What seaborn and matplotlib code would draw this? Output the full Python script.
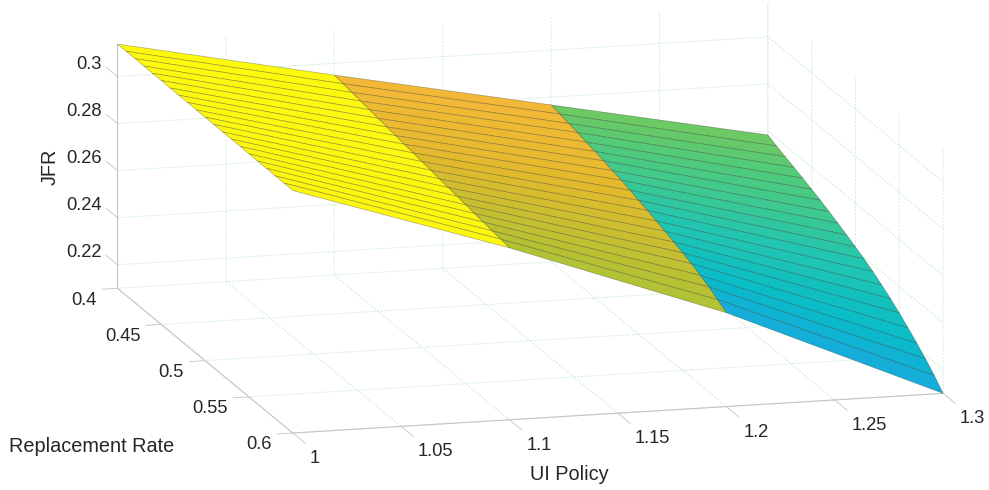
import numpy as np
import matplotlib
matplotlib.use("Agg")
import matplotlib.pyplot as plt
import seaborn as sns
from mpl_toolkits.mplot3d import proj3d
from mpl_toolkits.mplot3d.axis3d import Axis

ui_policy = [1.0, 1.1, 1.2, 1.3]
replacement_rate = [0.40, 0.41, 0.42, 0.43, 0.44, 0.45, 0.46, 0.47, 0.48, 0.49, 0.50,
                    0.51, 0.52, 0.53, 0.54, 0.55, 0.56, 0.57, 0.58, 0.59, 0.60]

jfr_100 = [0.3138, 0.3138, 0.3138, 0.3137, 0.3137, 0.3137, 0.3136, 0.3136, 0.3136, 0.3135, 0.3135,
           0.3135, 0.3134, 0.3134, 0.3134, 0.3133, 0.3133, 0.3133, 0.3132, 0.3132, 0.3131]
jfr_110 = [0.2950, 0.2944, 0.2938, 0.2932, 0.2926, 0.2920, 0.2914, 0.2908, 0.2902, 0.2896, 0.2890,
           0.2884, 0.2878, 0.2872, 0.2866, 0.2860, 0.2854, 0.2848, 0.2842, 0.2837, 0.2831]
jfr_120 = [0.2767, 0.2759, 0.2750, 0.2742, 0.2732, 0.2723, 0.2714, 0.2703, 0.2693, 0.2681, 0.2669,
           0.2657, 0.2643, 0.2630, 0.2615, 0.2600, 0.2585, 0.2566, 0.2547, 0.2524, 0.2499]
jfr_130 = [0.2583, 0.2567, 0.2552, 0.2537, 0.2522, 0.2506, 0.2490, 0.2472, 0.2454, 0.2435, 0.2415,
           0.2394, 0.2371, 0.2345, 0.2318, 0.2288, 0.2255, 0.2221, 0.2185, 0.2145, 0.2100]

x_ticks = [1, 1.05, 1.1, 1.15, 1.2, 1.25, 1.3]
x_labels = ["1", "1.05", "1.1", "1.15", "1.2", "1.25", "1.3"]
y_ticks = [0.4, 0.45, 0.5, 0.55, 0.6]
y_labels = ["0.4", "0.45", "0.5", "0.55", "0.6"]
z_ticks = [0.22, 0.24, 0.26, 0.28, 0.3]
z_labels = ["0.22", "0.24", "0.26", "0.28", "0.3"]

# colours picked off the surface, from z=0.25 up to z=0.314
surface_colors = ["#1aa8e0", "#08bcc8", "#24c6ae", "#52cb78", "#a4c436",
                  "#e4ba2c", "#fcb83c", "#fbd820", "#fdf90e"]

TEXT_COLOR = "#262626"
LINE_COLOR = "#c4c4c4"

sns.set_theme(style="white")
plt.rcParams["font.family"] = ["Liberation Sans", "DejaVu Sans"]

# z ticks run along the replacement rate axis, as in the original
Axis._AXINFO["z"]["tickdir"] = 1

cmap = sns.blend_palette(surface_colors, as_cmap=True)
norm = plt.Normalize(0.25, 0.314)

X, Y = np.meshgrid(ui_policy, replacement_rate)
Z = np.array([jfr_100, jfr_110, jfr_120, jfr_130]).T

fig = plt.figure(figsize=(9.89, 4.9), dpi=100)
ax = fig.add_axes([40.9 / 989, -218.1 / 490, 953 / 989, 953 / 490], projection="3d")
ax.set_proj_type("ortho")
ax.view_init(elev=12.97, azim=-105.2)
ax.set_box_aspect((673.6, 668, 250.4))

surf = ax.plot_surface(X, Y, Z, facecolors=cmap(norm(Z)), rstride=1, cstride=1,
                       shade=False, antialiased=True)
surf.set_edgecolor((0.1, 0.1, 0.1, 0.34))
surf.set_linewidth(0.5)

ax.set_xlim(1, 1.3, view_margin=0)
ax.set_ylim(0.6, 0.4, view_margin=0)
ax.set_zlim(0.21, 0.3138, view_margin=0)

ax.set_xticks(x_ticks)
ax.set_yticks(y_ticks)
ax.set_zticks(z_ticks)
ax.set_xticklabels([])
ax.set_yticklabels([])
ax.set_zticklabels([])

tick_in = {"x": 0.89, "y": 0.3, "z": 0}
tick_out = {"x": 0, "y": 0, "z": 0.82}
for name, axis in [("x", ax.xaxis), ("y", ax.yaxis), ("z", ax.zaxis)]:
    axis.set_pane_color((1, 1, 1, 0))
    axis.pane.set_edgecolor((1, 1, 1, 0))
    axis.line.set_color(LINE_COLOR)
    axis.line.set_linewidth(0.8)
    axis._axinfo["grid"].update(color="#cdeed4", linewidth=0.7, linestyle=(0, (2, 1.5)))
    axis._axinfo["tick"].update(inward_factor=tick_in[name], outward_factor=tick_out[name])
    axis._axinfo["tick"]["linewidth"] = {True: 0.6, False: 0.5}

ax.tick_params(axis="both", color=LINE_COLOR)
ax.tick_params(axis="z", color=LINE_COLOR)


def tick_label(x, y, z, s, dx, dy, ha):
    # project the tick position, then shift the label by an offset in points
    px, py, _ = proj3d.proj_transform(x, y, z, ax.get_proj())
    ax.annotate(s, (px, py), xytext=(dx, dy), textcoords="offset points", fontsize=13.2,
                color=TEXT_COLOR, ha=ha, va="center")


for v, s in zip(x_ticks, x_labels):
    tick_label(v, 0.6, 0.21, s, 12.2, -18.4, "left")
for v, s in zip(y_ticks, y_labels):
    tick_label(1, v, 0.21, s, -15.1, -8.6, "right")
for v, s in zip(z_ticks, z_labels):
    tick_label(1, 0.4, v, s, -11.5, 9, "right")

fig.text(569 / 989, 1 - 474 / 490, "UI Policy", fontsize=14.3, color=TEXT_COLOR, ha="center", va="center")
fig.text(92 / 989, 1 - 447 / 490, "Replacement Rate", fontsize=14.3, color=TEXT_COLOR, ha="center", va="center")
fig.text(50 / 989, 1 - 167 / 490, "JFR", fontsize=14.3, color=TEXT_COLOR, ha="center", va="center", rotation=90)

fig.savefig("out.png", dpi=100)
